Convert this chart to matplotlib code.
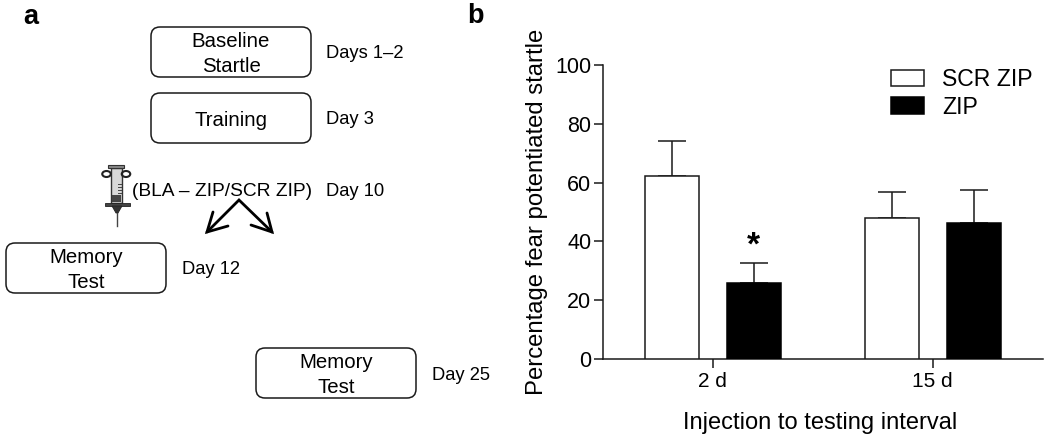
import matplotlib
matplotlib.use('Agg')
import matplotlib.pyplot as plt
from matplotlib.patches import FancyBboxPatch, Rectangle, Polygon, Ellipse

plt.rcParams['font.family'] = ['Liberation Sans', 'DejaVu Sans']

W, H = 1050, 438
INK = '#1a1a1a'

# chart values
intervals = ['2 d', '15 d']
scr_zip = [62.2, 47.9]
scr_zip_err = [11.9, 8.9]
zip_vals = [26.0, 46.2]
zip_err = [6.8, 11.3]

# left panel text
boxes = [
    (151, 27, 160, 50, 'Baseline\nStartle', 231),
    (151, 93, 160, 50, 'Training', 231),
    (6, 243, 160, 50, 'Memory\nTest', 86),
    (256, 348, 160, 50, 'Memory\nTest', 336),
]
day_labels = [
    (326, 54, 'Days 1–2'),
    (326, 120, 'Day 3'),
    (326, 191, 'Day 10'),
    (182, 270, 'Day 12'),
    (432, 376, 'Day 25'),
]

fig = plt.figure(figsize=(W / 100, H / 100), dpi=100)

# whole figure overlay in pixels for the flow diagram
bg = fig.add_axes([0, 0, 1, 1])
bg.set_xlim(0, W)
bg.set_ylim(H, 0)
bg.axis('off')

bg.text(23, 24, 'a', fontsize=19.5, fontweight='bold', ha='left', va='baseline')
bg.text(467, 23, 'b', fontsize=19.5, fontweight='bold', ha='left', va='baseline')

for x, y, w, h, label, cx in boxes:
    bg.add_patch(FancyBboxPatch((x + 9, y + 9), w - 18, h - 18,
                                boxstyle='round,pad=9,rounding_size=9',
                                fc='white', ec=INK, lw=1.1))
    bg.text(cx, y + h / 2 + 2, label, fontsize=14.7, ha='center', va='center', linespacing=1.38)

for x, y, label in day_labels:
    bg.text(x, y, label, fontsize=13.2, ha='left', va='center')

bg.text(132, 191, '(BLA – ZIP/SCR ZIP)', fontsize=13.8, ha='left', va='center')

# arrows
bg.plot([207, 239, 272], [232, 200, 232], color='black', lw=2, solid_capstyle='round', solid_joinstyle='miter')
bg.plot([213, 207, 228], [212, 232, 226], color='black', lw=2, solid_capstyle='round', solid_joinstyle='miter')
bg.plot([251, 272, 267], [225, 232, 213], color='black', lw=2, solid_capstyle='round', solid_joinstyle='miter')

# syringe
bg.add_patch(Rectangle((111, 168), 11, 35, fc='#d8d8d8', ec='#333333', lw=1))
bg.add_patch(Rectangle((112, 195), 9, 7, fc='#444444', ec='none'))
bg.add_patch(Rectangle((108, 165), 16, 3, fc='#888888', ec='#333333', lw=0.8))
bg.add_patch(Ellipse((106.5, 174), 8.5, 6, fc='none', ec='#222222', lw=1.5))
bg.add_patch(Ellipse((126, 174), 8.5, 6, fc='none', ec='#222222', lw=1.5))
for tick_y in [184, 187, 190, 193]:
    bg.plot([118, 121], [tick_y, tick_y], color='#444444', lw=0.7)
bg.add_patch(Rectangle((105, 203), 25, 3, fc='#444444', ec='#222222', lw=0.6))
bg.add_patch(Polygon([(112, 206), (122, 206), (118, 213), (116, 213)], fc='#333333', ec='#222222', lw=0.6))
bg.plot([117, 117], [213, 226], color='#444444', lw=1)

# bar chart
left, right, top, bottom = 603, 1043, 65, 359
ax = fig.add_axes([left / W, 1 - bottom / H, (right - left) / W, (bottom - top) / H])
ax.patch.set_alpha(0)

tick0 = 712.5
px = 220.0
ax.set_xlim(-(tick0 - left) / px, (right - tick0) / px)
ax.set_ylim(0, 100)

pos = list(range(len(intervals)))
off = 41 / px
bw = 54 / px

ax.bar([p - off for p in pos], scr_zip, bw, color='white', edgecolor=INK, lw=1.1, label='SCR ZIP', zorder=3)
ax.bar([p + off for p in pos], zip_vals, bw, color='black', edgecolor='black', lw=1.1, label='ZIP', zorder=3)
ax.errorbar([p - off for p in pos], scr_zip, yerr=[[0, 0], scr_zip_err], fmt='none', ecolor=INK,
            elinewidth=1.1, capsize=10, capthick=1.1, zorder=2)
ax.errorbar([p + off for p in pos], zip_vals, yerr=[[0, 0], zip_err], fmt='none', ecolor=INK,
            elinewidth=1.1, capsize=10, capthick=1.1, zorder=2)

ax.spines['top'].set_visible(False)
ax.spines['right'].set_visible(False)
ax.spines['left'].set_linewidth(1.1)
ax.spines['bottom'].set_linewidth(1.1)
ax.spines['left'].set_color(INK)
ax.spines['bottom'].set_color(INK)
ax.set_xticks(pos)
ax.set_xticklabels(intervals)
ax.set_yticks([0, 20, 40, 60, 80, 100])
ax.tick_params(axis='y', labelsize=15.5, length=6.5, width=1.1, pad=2, color=INK)
ax.tick_params(axis='x', labelsize=15, length=6.5, width=1.1, pad=3, color=INK)

ax.text(pos[0] + off, 33.2, '*', fontsize=24, fontweight='bold', ha='center', va='bottom')

bg.text(543, 212, 'Percentage fear potentiated startle', fontsize=17.2, rotation=90,
        ha='center', va='baseline', rotation_mode='anchor')
bg.text(820, 429, 'Injection to testing interval', fontsize=17, ha='center', va='baseline')

ax.legend(loc='upper left', bbox_to_anchor=((891 - left) / (right - left), 0.99), frameon=False,
          fontsize=16.6, handlelength=1.43, handleheight=0.74, handletextpad=0.78, labelspacing=0.2,
          borderpad=0, borderaxespad=0)

fig.savefig('out.png', dpi=100)
